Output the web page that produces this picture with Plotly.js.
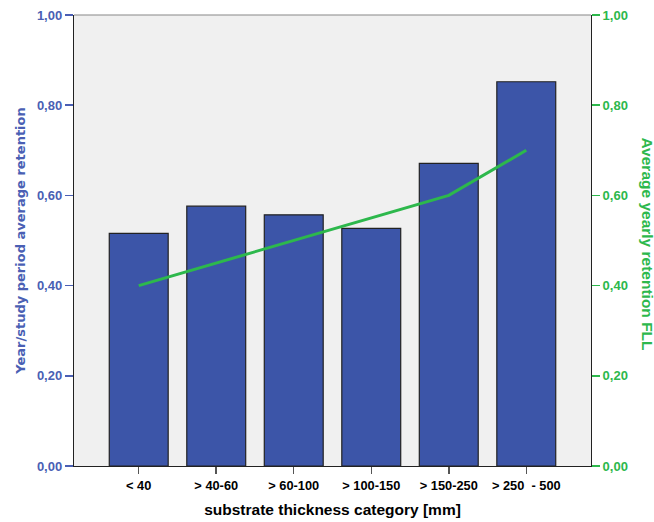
<!DOCTYPE html>
<html>
<head>
<meta charset="utf-8">
<script src="https://cdn.plot.ly/plotly-3.0.1.min.js"></script>
<style>html,body{margin:0;padding:0;background:#fff;}#chart{width:654px;height:522px;}</style>
</head>
<body>
<div id="chart"></div>
<script>
const categories = ['< 40', '> 40-60', '> 60-100', '> 100-150', '> 150-250', '> 250  - 500'];
const periodRetention = [0.516, 0.576, 0.557, 0.527, 0.671, 0.852];
const yearlyRetentionFLL = [0.40, 0.45, 0.50, 0.55, 0.60, 0.70];
const yTickVals = [0, 0.2, 0.4, 0.6, 0.8, 1.0];

const blue = '#4a5fb4';
const green = '#2db84c';
const font = 'Liberation Sans, Arial, sans-serif';
const wideFont = 'DejaVu Sans, Verdana, sans-serif';

const traces = [
  {
    type: 'bar', x: categories, y: periodRetention, yaxis: 'y',
    marker: {color: '#3c55a8', line: {color: '#222', width: 1.2}},
    width: 0.76, hoverinfo: 'skip', showlegend: false
  },
  {
    type: 'scatter', mode: 'lines', x: categories, y: yearlyRetentionFLL, yaxis: 'y2',
    line: {color: green, width: 3}, hoverinfo: 'skip', showlegend: false
  }
];

const layout = {
  width: 654, height: 522,
  margin: {l: 74, r: 63, t: 15, b: 56},
  paper_bgcolor: '#fff', plot_bgcolor: '#f0f0f0',
  separators: ',.',
  showlegend: false,
  font: {family: font, size: 12, color: '#000'},
  xaxis: {
    type: 'category', range: [-0.835, 5.835],
    showline: true, linecolor: '#222', linewidth: 1.2,
    ticks: 'outside', ticklen: 7, tickcolor: '#555', tickwidth: 1.5,
    tickfont: {family: font, size: 12.8, color: '#000', weight: 'bold'},
    showgrid: false, zeroline: false,
    title: {text: '<b>substrate thickness category [mm]</b>', font: {family: font, size: 15.5, color: '#000'}, standoff: 12}
  },
  yaxis: {
    range: [0, 1], tickvals: yTickVals, tickformat: '.2f',
    showline: true, linecolor: '#222', linewidth: 1.2, mirror: true,
    ticks: 'outside', ticklen: 8, tickcolor: blue, tickwidth: 1.5,
    tickfont: {family: font, size: 13, color: blue, weight: 'bold'},
    showgrid: false, zeroline: false,
    title: {text: '<b>Year/study period average retention</b>', font: {family: wideFont, size: 13, color: blue}, standoff: 8}
  },
  yaxis2: {
    range: [0, 1], tickvals: yTickVals, tickformat: '.2f',
    overlaying: 'y', side: 'right', anchor: 'x',
    showline: false,
    ticks: 'outside', ticklen: 8, tickcolor: green, tickwidth: 1.5,
    tickfont: {family: font, size: 13, color: green, weight: 'bold'},
    showgrid: false, zeroline: false
  },
  shapes: [
    {type: 'line', xref: 'paper', yref: 'paper', x0: 0, x1: 1, y0: 1, y1: 1, line: {color: '#888', width: 1.2}}
  ],
  annotations: [
    {
      text: '<b>Average yearly retention FLL</b>', xref: 'paper', yref: 'paper',
      x: 1, xshift: 56, y: 0.5, yshift: -3, textangle: 90, showarrow: false,
      font: {family: font, size: 15.5, color: green}, xanchor: 'center', yanchor: 'middle'
    }
  ]
};

Plotly.newPlot('chart', traces, layout, {displayModeBar: false, staticPlot: true});
</script>
</body>
</html>
